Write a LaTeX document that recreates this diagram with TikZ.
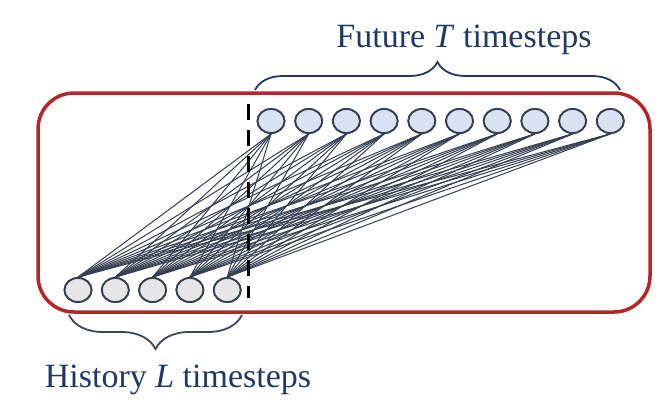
\documentclass[tikz,border=0pt]{standalone}
\usepackage{fontspec}
\setmainfont{Liberation Serif}
\usetikzlibrary{decorations.pathreplacing,shapes.geometric}
\definecolor{redbox}{HTML}{B3262B}
\definecolor{nodeedge}{HTML}{333F50}
\definecolor{futfill}{HTML}{DAE3F3}
\definecolor{histfill}{HTML}{E6E6E6}
\definecolor{labblue}{HTML}{203864}
\definecolor{histbrace}{HTML}{3B4658}
\tikzset{
  futnode/.style={ellipse, draw=nodeedge, line width=1.8pt, fill=futfill, minimum width=27pt, minimum height=24pt, inner sep=0pt},
  histnode/.style={ellipse, draw=nodeedge, line width=1.8pt, fill=histfill, minimum width=27pt, minimum height=24pt, inner sep=0pt},
  conn/.style={draw=nodeedge, line width=1pt},
  lab/.style={text=labblue, font=\fontsize{34}{40}\selectfont, anchor=base, inner sep=0pt},
}
\begin{document}
\begin{tikzpicture}[x=1pt,y=-1pt]
\useasboundingbox (0,0) rectangle (671,408);
% red box
\node[draw=redbox, line width=3.5pt, rounded corners=36pt, minimum width=612pt, minimum height=219pt, inner sep=0pt] (box) at (344,202.5) {};
% history nodes
\foreach \i in {1,...,5} {
  \node[histnode] (h\i) at ({78+37.3*(\i-1)},290) {};
}
% future nodes
\foreach \j in {1,...,10} {
  \node[futnode] (f\j) at ({271+37.7*(\j-1)},121) {};
}
% connections
\foreach \i in {1,...,5} {
  \foreach \j in {1,...,10} {
    \draw[conn] (h\i.north) -- (f\j.south);
  }
}
% redraw nodes over lines
\foreach \i in {1,...,5} {
  \node[histnode] at (h\i) {};
}
\foreach \j in {1,...,10} {
  \node[futnode] at (f\j) {};
}
% dashed line
\coordinate (dtop) at (248,104);
\coordinate (dbot) at (248,298);
\draw[black, line width=3pt, dash pattern=on 16pt off 10pt] (dtop) -- (dbot);
% braces
\coordinate (fb1) at (255,90);
\coordinate (fb2) at (620,90);
\draw[labblue, line width=1.8pt, decorate, decoration={brace, amplitude=28pt, aspect=0.5}] (fb1) -- (fb2);
\coordinate (hb1) at (242,315);
\coordinate (hb2) at (69,315);
\draw[histbrace, line width=1.8pt, decorate, decoration={brace, amplitude=34pt, aspect=0.5}] (hb1) -- (hb2);
% labels
\node[lab] (flab) at (464,47) {Future \textit{T} timesteps};
\node[lab] (hlab) at (178,387) {History \textit{L} timesteps};
\end{tikzpicture}
\end{document}
